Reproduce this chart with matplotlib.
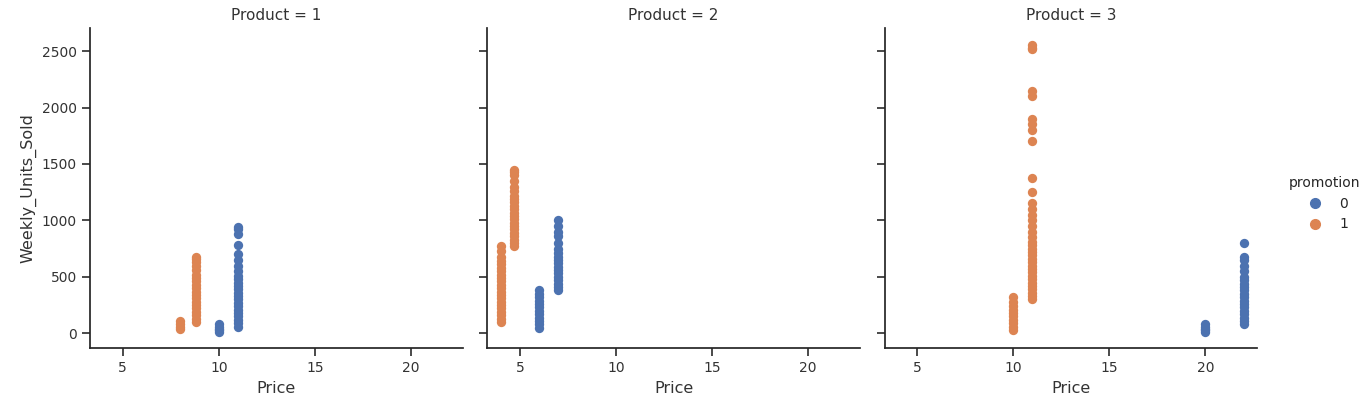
import matplotlib
matplotlib.use("Agg")
import matplotlib.pyplot as plt
import seaborn as sns

sns.set_theme(style="ticks")
plt.rcParams['font.family'] = ['DejaVu Sans']

# (price, units) per product/promotion
p1_promo0_price = [10]*5 + [11]*24
p1_promo0_units = [10, 25, 40, 60, 80,
                   60, 90, 120, 150, 180, 210, 240, 270, 300, 330, 360, 390, 420, 450, 480, 510, 550, 600, 650, 700, 780, 880, 920, 940]
p1_promo1_price = [8]*4 + [8.8]*20
p1_promo1_units = [40, 60, 85, 110,
                   100, 130, 160, 190, 220, 250, 280, 310, 340, 370, 400, 430, 460, 490, 520, 560, 600, 630, 660, 680]

p2_promo0_price = [6]*12 + [7]*18
p2_promo0_units = [50, 80, 110, 140, 170, 200, 230, 260, 290, 320, 350, 380,
                   380, 410, 440, 470, 500, 530, 560, 590, 620, 650, 680, 710, 750, 800, 860, 900, 950, 1000]
p2_promo1_price = [4]*22 + [4.7]*22
p2_promo1_units = [100, 130, 160, 190, 220, 250, 280, 310, 340, 370, 400, 430, 460, 490, 520, 550, 580, 610, 640, 680, 730, 770,
                   770, 800, 830, 860, 890, 920, 950, 980, 1010, 1040, 1070, 1100, 1130, 1160, 1190, 1220, 1260, 1300, 1350, 1400, 1430, 1450]

p3_promo0_price = [20]*5 + [22]*20
p3_promo0_units = [10, 25, 40, 60, 80,
                   80, 110, 140, 170, 200, 230, 260, 290, 320, 350, 380, 410, 440, 470, 500, 550, 600, 650, 680, 800]
p3_promo1_price = [10]*10 + [11]*36
p3_promo1_units = [30, 60, 90, 120, 150, 180, 210, 240, 280, 320,
                   300, 330, 360, 390, 420, 450, 480, 510, 540, 570, 600, 630, 660, 690, 720, 750, 780, 810, 850, 900,
                   950, 1000, 1050, 1100, 1150, 1250, 1380, 1700, 1800, 1850, 1900, 2100, 2150, 2520, 2550, 2530]

panels = [
    ("Product = 1", p1_promo0_price, p1_promo0_units, p1_promo1_price, p1_promo1_units),
    ("Product = 2", p2_promo0_price, p2_promo0_units, p2_promo1_price, p2_promo1_units),
    ("Product = 3", p3_promo0_price, p3_promo0_units, p3_promo1_price, p3_promo1_units),
]

c0, c1 = "#4c72b0", "#dd8452"
fig = plt.figure(figsize=(13.65, 4.07), dpi=100)
lefts = [0.066, 0.357, 0.648]
axes = []
for i, (title, x0, y0, x1, y1) in enumerate(panels):
    ax = fig.add_axes([lefts[i], 0.145, 0.273, 0.785], sharey=axes[0] if axes else None)
    axes.append(ax)
    ax.scatter(x0, y0, s=45, color=c0, linewidths=0)
    ax.scatter(x1, y1, s=45, color=c1, linewidths=0)
    ax.set_xlim(3.3, 22.7)
    ax.set_ylim(-130, 2700)
    ax.set_xticks([5, 10, 15, 20])
    ax.set_yticks([0, 500, 1000, 1500, 2000, 2500])
    ax.set_title(title, fontsize=11, color="#333333")
    ax.set_xlabel("Price", fontsize=11.5, color="#333333")
    ax.tick_params(labelsize=10, colors="#333333")
    for s in ["top", "right"]:
        ax.spines[s].set_visible(False)
    if i == 0:
        ax.set_ylabel("Weekly_Units_Sold", fontsize=11.5, color="#333333")
    else:
        ax.tick_params(labelleft=False)

h0 = plt.Line2D([], [], marker='o', ls='', color=c0, markersize=7)
h1 = plt.Line2D([], [], marker='o', ls='', color=c1, markersize=7)
fig.legend([h0, h1], ["0", "1"], title="promotion", loc="center left",
           bbox_to_anchor=(0.935, 0.5), frameon=False, fontsize=10, title_fontsize=10)
fig.savefig("out.png", dpi=100)
